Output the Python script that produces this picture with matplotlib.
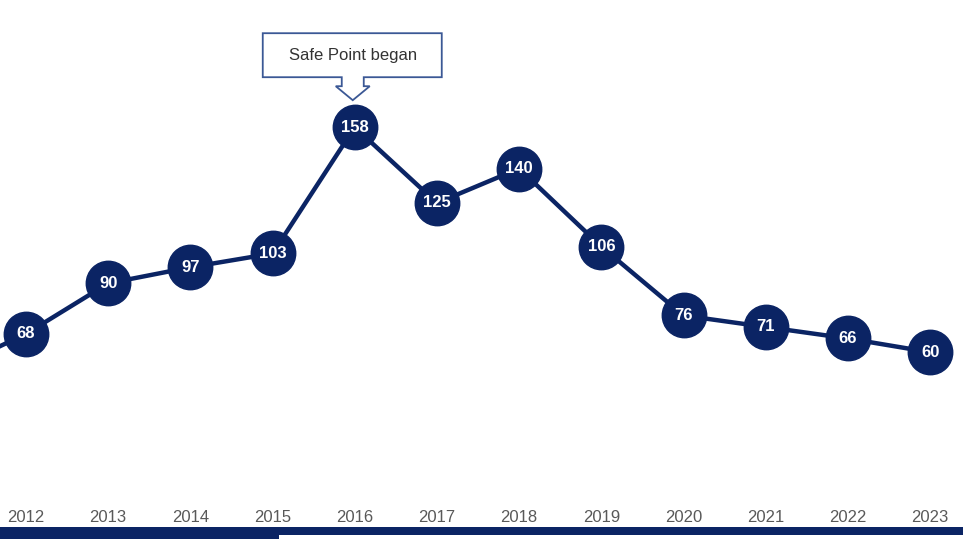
import matplotlib.pyplot as plt
from matplotlib.patches import Polygon, Rectangle

# Data
years = [2011, 2012, 2013, 2014, 2015, 2016, 2017, 2018, 2019, 2020, 2021, 2022, 2023]
counts = [51, 68, 90, 97, 103, 158, 125, 140, 106, 76, 71, 66, 60]
shown_years = years[1:]
annotation_year = 2016
annotation_text = "Safe Point began"

NAVY = "#0b2464"

fig = plt.figure(figsize=(9.63, 5.39), dpi=100)
ax = fig.add_axes([0, 49 / 539, 1, 490 / 539])
ax.set_xlim(2011.684, 2023.40)
ax.set_ylim(0, 213.4)
ax.axis("off")

# Line and markers
ax.plot(years, counts, color=NAVY, lw=3.2, zorder=2, clip_on=True)
ax.plot(shown_years, counts[1:], "o", color=NAVY, ms=32, zorder=3, clip_on=False)
for x, y in zip(shown_years, counts[1:]):
    ax.text(x, y, str(y), color="white", fontsize=12, fontweight="bold",
            ha="center", va="center", zorder=4,
            family=["Liberation Sans", "DejaVu Sans"])

# Year labels
for x in shown_years:
    ax.annotate(str(x), (x, 0), xytext=(0, -28), textcoords="offset pixels",
                ha="center", va="center", fontsize=12, color="#595959",
                family=["Liberation Sans Narrow", "Liberation Sans", "DejaVu Sans"])

# Callout box pointing at the annotated point
fig.canvas.draw()
i = years.index(annotation_year)
cx, cy = ax.transData.transform((years[i], counts[i]))
pts = [(-92, 94), (87, 94), (87, 50), (9, 50), (9, 41), (15, 41), (-2, 27),
       (-19, 41), (-13, 41), (-13, 50), (-92, 50)]
poly = Polygon([(cx + dx, cy + dy) for dx, dy in pts], closed=True,
               facecolor="white", edgecolor="#3b5895", lw=1.3, transform=None)
fig.patches.append(poly)
fig.text((cx - 2) / fig.bbox.width, (cy + 72) / fig.bbox.height, annotation_text,
         ha="center", va="center", fontsize=12, color="#333333",
         family=["Liberation Sans Narrow", "Liberation Sans", "DejaVu Sans"])

# Bottom band
fig.patches.append(Rectangle((0, 0), 1, 12 / 539, transform=fig.transFigure,
                             facecolor=NAVY, edgecolor="none"))
fig.patches.append(Rectangle((279 / 963, 0), 1, 4 / 539, transform=fig.transFigure,
                             facecolor="white", edgecolor="none"))

fig.savefig("out.png", dpi=100)
